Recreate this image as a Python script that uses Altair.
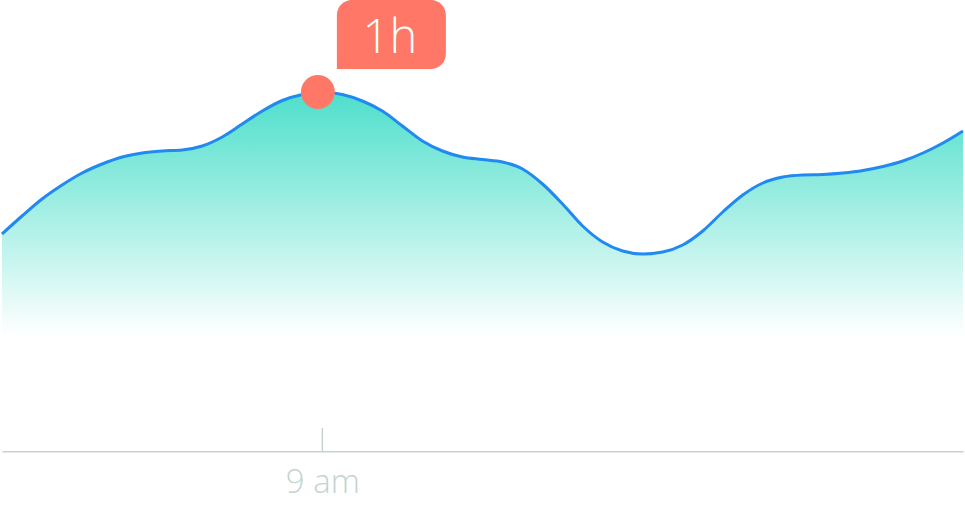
import altair as alt
import pandas as pd

# time in minutes since midnight (6:00 .. 15:00, every 11.25 min)
minutes = [360 + 11.25 * i for i in range(49)]
values = [217, 235, 252, 266, 278, 287, 294, 298, 300, 301,
          305, 314, 327, 340, 350.5, 356.5, 359, 356.5, 350, 340,
          325, 310, 300, 294, 291.5, 289, 282, 267, 247, 225,
          209, 200, 197, 199, 206, 220, 239, 256, 268, 274,
          276, 276.5, 278, 280.5, 284.5, 290, 298, 308, 320]

peak_minute = [537.5]
peak_value = [359]
peak_label = ["1h"]

tick_minute = [540]
tick_label = ["9 am"]

df = pd.DataFrame({"t": minutes, "v": values})
peak = pd.DataFrame({"t": peak_minute, "v": peak_value, "label": peak_label})
ticks = pd.DataFrame({"t": tick_minute, "y0": [0], "y1": [23]})

xscale = alt.Scale(domain=[360, 900], nice=False, zero=False)
yscale = alt.Scale(domain=[0, 451], nice=False)

FONT = "Open Sans"
AXIS_COLOR = "#c5d3d1"

gradient = alt.Gradient(
    gradient="linear",
    x1=0, x2=0, y1=0, y2=1,
    stops=[
        alt.GradientStop(color="#4ddfcb", offset=0),
        alt.GradientStop(color="#ffffff", offset=0.68),
        alt.GradientStop(color="#ffffff", offset=1),
    ],
)

area = alt.Chart(df).mark_area(
    interpolate="monotone", fill=gradient, opacity=1, fillOpacity=1,
    line={"color": "#2189f0", "strokeWidth": 3},
).encode(
    x=alt.X("t:Q", scale=xscale,
            axis=alt.Axis(values=tick_minute, labelExpr="'9 am'", ticks=False, grid=False,
                          domainColor=AXIS_COLOR, domainWidth=2, labelColor=AXIS_COLOR,
                          labelFont=FONT, labelFontSize=33, labelFontWeight=300,
                          labelPadding=15, title=None, labelFlush=False)),
    y=alt.Y("v:Q", scale=yscale, axis=None),
)

tick = alt.Chart(ticks).mark_rule(color=AXIS_COLOR, strokeWidth=1.5).encode(
    x=alt.X("t:Q", scale=xscale),
    y=alt.Y("y0:Q", scale=yscale),
    y2="y1:Q",
)

dot = alt.Chart(peak).mark_circle(color="#ff7867", opacity=1, size=1150).encode(
    x=alt.X("t:Q", scale=xscale),
    y=alt.Y("v:Q", scale=yscale),
)

box = alt.Chart(peak).mark_rect(
    color="#ff7867",
    xOffset=19, x2Offset=128, yOffset=-92, y2Offset=-23,
    cornerRadiusTopLeft=15, cornerRadiusTopRight=15,
    cornerRadiusBottomRight=15, cornerRadiusBottomLeft=0,
).encode(
    x=alt.X("t:Q", scale=xscale),
    x2="t:Q",
    y=alt.Y("v:Q", scale=yscale),
    y2="v:Q",
)

label = alt.Chart(peak).mark_text(
    color="white", font=FONT, fontSize=47, fontWeight=300,
    align="center", baseline="alphabetic", dx=72, dy=-39,
).encode(
    x=alt.X("t:Q", scale=xscale),
    y=alt.Y("v:Q", scale=yscale),
    text="label:N",
)

chart = alt.layer(area, tick, dot, box, label).properties(
    width=961, height=451,
    padding={"left": 2, "top": 0, "right": 2, "bottom": 65},
    autosize=alt.AutoSizeParams(type="none"),
    view=alt.ViewBackground(stroke="transparent", strokeWidth=0),
).configure_view(stroke="transparent", strokeWidth=0).configure(background="white")

chart.save("out.html", embed_options={"renderer": "svg", "actions": False})
